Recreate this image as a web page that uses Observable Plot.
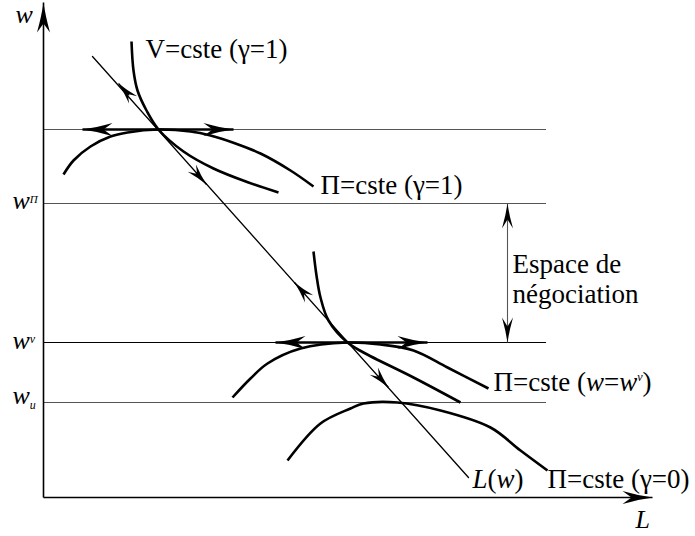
<!DOCTYPE html>
<html><head><meta charset="utf-8">
<script src="https://cdn.jsdelivr.net/npm/d3@7"></script>
<script src="https://cdn.jsdelivr.net/npm/@observablehq/plot@0.6"></script>
<style>
body{margin:0;background:#fff}
#chart svg text, #chart svg tspan { font-family: "Liberation Serif", "Times New Roman", serif !important; }
</style>
</head><body><div id="chart"></div>
<script>
// ---- data (L = employment, w = wage) ----
const axisEndL = 609;
const axisEndW = 495;
const levelTop = 368;     // unnamed level (γ=1 tangency)
const levelWPi = 294;     // w^Π
const levelWv = 155;      // w^v
const levelWu = 95;       // w_u
const levelEndL = 503;

const lineLw = [[49, 441], [425, 20]];                       // L(w)
const vHigh = [[88,456],[90,427],[94,407],[103,387],[115,368],[140,346],[170,329],[205,315],[235,305]];
const piHigh = [[20,323],[30,337],[47,351],[67,361],[84,365],[115,368],[147,366],[167,362],[192,354],[217,344],[247,327],[270,311]];
const vLow = [[270,246],[273,222],[277,200],[285,177],[304,155],[320,145],[370,120],[417,95]];
const piMid = [[189,100],[207,119],[224,134],[257,149],[304,155],[337,153],[370,147],[404,130],[445,109]];
const piZero = [[244,37],[277,74],[307,89],[320,94],[354,95],[397,87],[447,70],[477,47],[504,27]];

const lArrowTips = [[75,414,"up"],[163,313,"down"],[251,215,"up"],[345,110,"down"]];
const hArrows = [
  {w: levelTop, from: 115, left: 39, right: 190},
  {w: levelWv, from: 304, left: 232, right: 384}
];
const bargainL = 464;

const curveLabels = [
  {L: 102, w: 440, text: "V=cste (γ=1)"},
  {L: 277, w: 304, text: "Π=cste (γ=1)"},
  {L: 469, w: 195, text: "Espace de\nnégociation"},
  {L: 450, w: 107, text: "Π=cste (w=wv)"},
  {L: 429, w: 10, text: "L(w)"},
  {L: 504, w: 10, text: "Π=cste (γ=0)"}
];
const axisLabels = [
  {L: -28, w: 475, text: "w"},
  {L: 592, w: -30, text: "L"},
  {L: -31, w: 289, text: "wΠ"},
  {L: -31, w: 149, text: "wv"},
  {L: -31, w: 94, text: "wu"}
];

// ---- derived ----
const du = [lineLw[1][0]-lineLw[0][0], lineLw[1][1]-lineLw[0][1]];
const dn = Math.hypot(du[0], du[1]);
const u = [du[0]/dn, du[1]/dn];
const lArrows = lArrowTips.map(([L, w, dir]) => {
  const s = dir === "up" ? 16 : -16;
  return {x1: L + s*u[0], y1: w + s*u[1], x2: L, y2: w};
});
const hArrowSegs = hArrows.flatMap(a => [
  {x1: a.from, y1: a.w, x2: a.left, y2: a.w},
  {x1: a.from, y1: a.w, x2: a.right, y2: a.w}
]);
const axes = [
  {x1: 0, y1: 0, x2: axisEndL, y2: 0},
  {x1: 0, y1: 0, x2: 0, y2: axisEndW}
];
const serif = "Liberation Serif, Times New Roman, serif";
const XY = {x: d => d[0], y: d => d[1]};
const curveStyle = {curve: "catmull-rom", stroke: "#000", strokeWidth: 2.6, strokeLinecap: "butt"};

const plot = Plot.plot({
  width: 695, height: 536,
  marginTop: 0, marginRight: 0, marginBottom: 0, marginLeft: 0,
  x: {domain: [-43, 652], range: [0, 695], axis: null},
  y: {domain: [-39, 497], range: [536, 0], axis: null},
  style: {background: "#fff"},
  marks: [
    Plot.ruleY([levelTop, levelWPi, levelWu], {x1: 0, x2: levelEndL, stroke: "#555", strokeWidth: 1.2}),
    Plot.ruleY([levelWv], {x1: 0, x2: levelEndL, stroke: "#000", strokeWidth: 1.1}),
    Plot.link([{x1: bargainL, y1: levelWPi, x2: bargainL, y2: levelWv}],
      {x1: "x1", y1: "y1", x2: "x2", y2: "y2", stroke: "#555", strokeWidth: 1.1, ariaDescription: "mk-bargain"}),
    Plot.link(axes, {x1: "x1", y1: "y1", x2: "x2", y2: "y2", stroke: "#000", strokeWidth: 1.6, ariaDescription: "mk-axis"}),
    Plot.line(lineLw, {...XY, stroke: "#000", strokeWidth: 1.3}),
    Plot.line(vHigh, {...XY, ...curveStyle}),
    Plot.line(piHigh, {...XY, ...curveStyle}),
    Plot.line(vLow, {...XY, ...curveStyle}),
    Plot.line(piMid, {...XY, ...curveStyle}),
    Plot.line(piZero, {...XY, ...curveStyle}),
    Plot.link(hArrowSegs, {x1: "x1", y1: "y1", x2: "x2", y2: "y2", stroke: "#000", strokeWidth: 2.4, ariaDescription: "mk-big"}),
    Plot.link(lArrows, {x1: "x1", y1: "y1", x2: "x2", y2: "y2", stroke: "#000", strokeWidth: 1.3, ariaDescription: "mk-small"}),
    Plot.text(curveLabels, {x: "L", y: "w", text: "text", textAnchor: "start", lineAnchor: "bottom",
      fontSize: 27, lineHeight: 1.11, fill: "#000", fontFamily: serif}),
    Plot.text(axisLabels, {x: "L", y: "w", text: "text", textAnchor: "start", lineAnchor: "bottom",
      fontSize: 26, fill: "#000", fontFamily: serif})
  ]
});

// ---- arrowhead markers ----
const svg = d3.select(plot);
const defs = svg.insert("defs", ":first-child");
function addMarker(id, len, half, notch, orient) {
  defs.append("marker")
    .attr("id", id).attr("markerUnits", "userSpaceOnUse")
    .attr("viewBox", `${-len-2} ${-half-1} ${len+4} ${2*half+2}`)
    .attr("markerWidth", len+4).attr("markerHeight", 2*half+2)
    .attr("refX", 0).attr("refY", 0).attr("orient", orient)
    .append("path")
    .attr("d", `M0,0 Q${-len*0.45},${-half*0.3} ${-len},${-half} L${-notch},0 L${-len},${half} Q${-len*0.45},${half*0.3} 0,0Z`)
    .attr("fill", "#000");
}
addMarker("mk-big", 30, 6.5, 21, "auto");
addMarker("mk-axis", 30, 6.5, 21, "auto");
addMarker("mk-small", 22, 5.5, 14, "auto");
addMarker("mk-bargain", 25, 5.5, 16, "auto-start-reverse");
svg.selectAll('g[aria-description="mk-big"] path').attr("marker-end", "url(#mk-big)");
svg.selectAll('g[aria-description="mk-axis"] path').attr("marker-end", "url(#mk-axis)");
svg.selectAll('g[aria-description="mk-small"] path').attr("marker-end", "url(#mk-small)");
svg.selectAll('g[aria-description="mk-bargain"] path')
  .attr("marker-end", "url(#mk-bargain)").attr("marker-start", "url(#mk-bargain)");

// ---- rich text (italics, super/subscripts) ----
const rich = {
  "Π=cste (w=wv)": [["Π=cste (",0,0,0],["w",1,0,0],["=",0,0,0],["w",1,0,0],["v",1,12,-10],[")",0,0,0]],
  "L(w)": [["L",1,0,0],["(",0,0,0],["w",1,0,0],[")",0,0,0]],
  "L": [["L",1,0,0]],
  "w": [["w",1,0,0]],
  "wΠ": [["w",1,0,0],["Π",1,11,-6]],
  "wv": [["w",1,0,0],["v",1,12,-6]],
  "wu": [["w",1,0,0],["u",1,12,5]]
};
svg.selectAll("text").each(function() {
  const el = d3.select(this);
  const segs = rich[this.textContent];
  if (!segs) return;
  el.text(null);
  let cur = 0;
  for (const [t, it, size, shift] of segs) {
    const ts = el.append("tspan").text(t);
    if (it) ts.attr("font-style", "italic");
    if (size) ts.attr("font-size", size);
    if (shift !== cur) ts.attr("dy", shift - cur);
    cur = shift;
  }
});

document.getElementById("chart").append(plot);
</script></body></html>
